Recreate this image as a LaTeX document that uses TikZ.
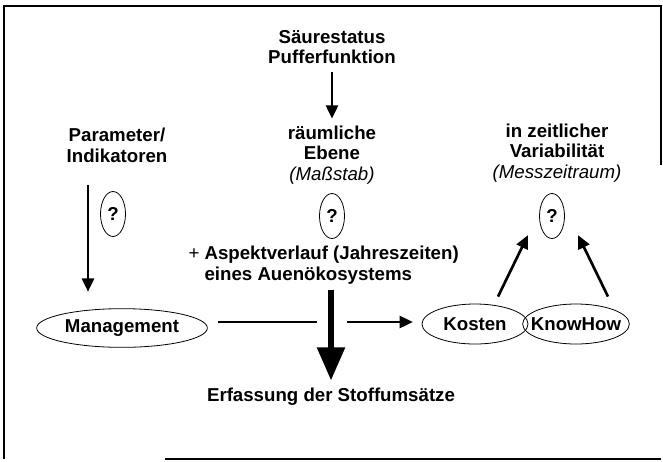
\documentclass[tikz,border=0pt]{standalone}
\usepackage{fontspec}
\setmainfont{Liberation Sans}
\usetikzlibrary{arrows.meta,shapes.geometric}

\begin{document}
\begin{tikzpicture}[x=0.75pt,y=-0.75pt]
    \tikzset{label/.style = {font=\fontsize{14}{15.5}\selectfont\bfseries, align=center, inner sep=1pt}}
    \tikzset{oval/.style = {shape=ellipse, draw, line width=0.6pt, inner sep=0pt, font=\fontsize{14}{15.5}\selectfont\bfseries}}
    \tikzset{qmark/.style = {oval, minimum width=18.75pt, minimum height=33.75pt}}
    \tikzset{edge/.style = {-{Triangle[length=10pt,width=9pt]}, line width=2pt}}
    \tikzset{bigedge/.style = {-{Triangle[length=25pt,width=20pt]}, line width=5pt}}
    \tikzset{frame/.style = {line width=0.8pt}}

    \useasboundingbox (0,0) rectangle (663,461);
    \draw[frame] (4,459) -- (4,6) -- (661,6) -- (661,165);
    \draw[frame] (165,459) -- (661,459);

    \node[label] (sa) at (332,47) {Säurestatus\\Pufferfunktion};
    \node[label] (par) at (117,145) {Parameter/\\Indikatoren};
    \node[label] (raum) at (332,155) {räumliche\\Ebene\\{\mdseries\itshape (Maßstab)}};
    \node[label] (zeit) at (557,153) {in zeitlicher\\Variabilität\\{\mdseries\itshape (Messzeitraum)}};

    \node[qmark] (q1) at (113,214) {?};
    \node[qmark] (q2) at (332,216) {?};
    \node[qmark] (q3) at (552,216) {?};

    \node[label, align=left, anchor=west] (asp) at (203,265) {\llap{\mdseries+ }Aspektverlauf (Jahreszeiten)\\eines Auenökosystems};
    \node[label] (erf) at (331,397) {Erfassung der Stoffumsätze};

    \node[oval, minimum width=128pt, minimum height=29pt] (mgmt) at (122,328) {Management};
    \node[oval, minimum width=79.5pt, minimum height=30pt] (kost) at (475,324) {Kosten};
    \node[oval, inner xsep=-6pt, minimum width=80pt, minimum height=30pt] (know) at (576,324) {KnowHow};

    \coordinate (ps) at (88,185);
    \coordinate (gl) at (317,322);
    \coordinate (gr) at (347,322);

    \draw[edge, shorten <=5pt, shorten >=4pt] (sa) -- (raum);
    \draw[edge, shorten >=12.4pt] (ps) -- (ps |- mgmt.north);
    \draw[bigedge, shorten <=3pt, shorten >=4.5pt] (asp.south -| erf.north) -- (erf.north);

    \draw[line width=2pt, shorten <=7.5pt] (mgmt.east |- gl) -- (gl);
    \draw[edge, shorten >=6.5pt] (gr) -- (kost.west |- gr);

    \draw[edge] ([shift={(23,-7)}]kost.north) -- ([shift={(-15,3)}]q3.south west);
    \draw[edge] ([shift={(32,-7)}]know.north) -- ([shift={(17,3)}]q3.south east);
\end{tikzpicture}
\end{document}
